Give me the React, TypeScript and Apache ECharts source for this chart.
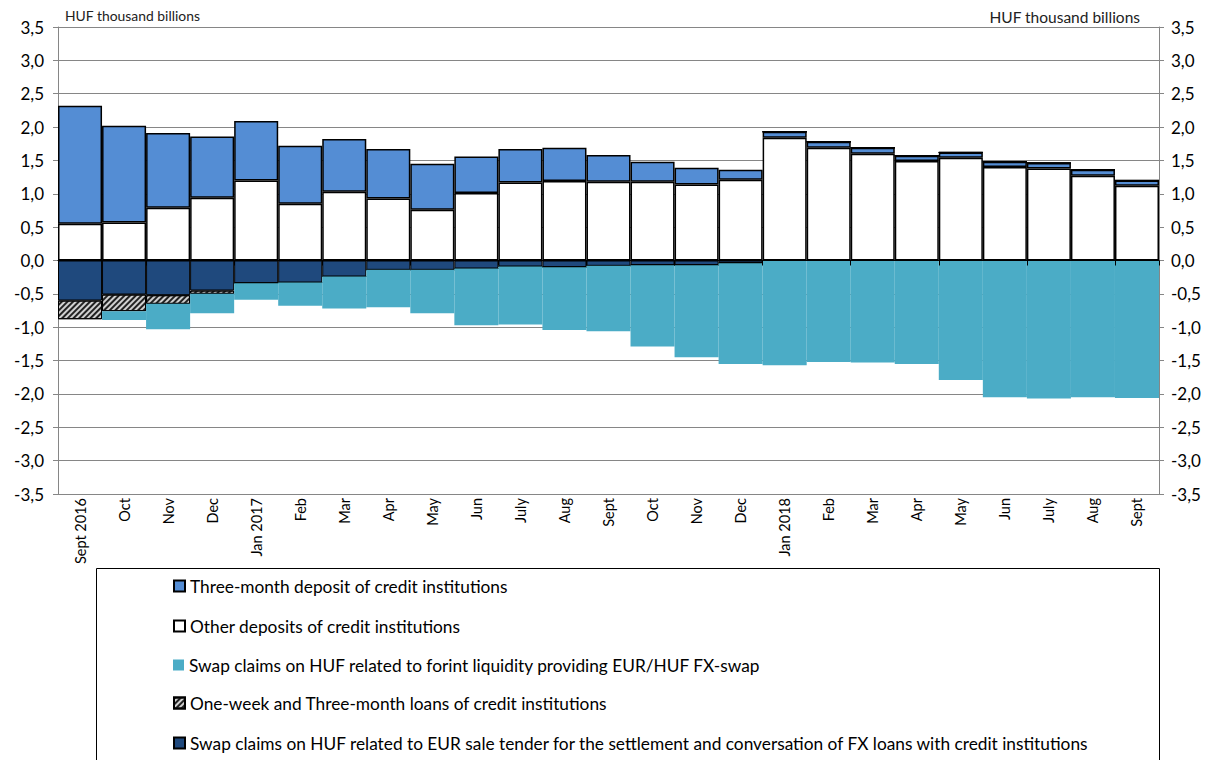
import React, { useEffect, useRef } from "react";
import * as echarts from "echarts";

const categories = [
  "Sept 2016", "Oct", "Nov", "Dec", "Jan 2017", "Feb", "Mar", "Apr", "May", "Jun", "July", "Aug", "Sept",
  "Oct", "Nov", "Dec", "Jan 2018", "Feb", "Mar", "Apr", "May", "Jun", "July", "Aug", "Sept",
];

const otherDeposits = [0.55, 0.57, 0.79, 0.94, 1.2, 0.85, 1.03, 0.93, 0.76, 1.01, 1.17, 1.19, 1.18, 1.18, 1.14, 1.21, 1.84, 1.69, 1.6, 1.49, 1.54, 1.4, 1.38, 1.27, 1.12];
const threeMonthDeposit = [1.77, 1.45, 1.12, 0.92, 0.89, 0.87, 0.79, 0.74, 0.69, 0.55, 0.5, 0.5, 0.4, 0.3, 0.25, 0.15, 0.09, 0.09, 0.09, 0.08, 0.08, 0.08, 0.08, 0.09, 0.08];
const swapEurSaleTender = [-0.6, -0.51, -0.52, -0.45, -0.34, -0.33, -0.24, -0.14, -0.14, -0.12, -0.09, -0.1, -0.08, -0.07, -0.07, -0.04, 0, 0, 0, 0, 0, 0, 0, 0, 0];
const loans = [-0.28, -0.25, -0.13, -0.05, 0, 0, 0, 0, 0, 0, 0, 0, 0, 0, 0, 0, 0, 0, 0, 0, 0, 0, 0, 0, 0];
const swapFxSwap = [0, -0.13, -0.38, -0.29, -0.25, -0.35, -0.48, -0.56, -0.65, -0.85, -0.87, -0.94, -0.98, -1.22, -1.38, -1.51, -1.57, -1.52, -1.53, -1.55, -1.79, -2.05, -2.07, -2.05, -2.06];

const NAME_THREE = "Three-month deposit of credit institutions";
const NAME_OTHER = "Other deposits of credit institutions";
const NAME_FX = "Swap claims on HUF related to forint liquidity providing EUR/HUF FX-swap";
const NAME_LOANS = "One-week and Three-month loans of credit institutions";
const NAME_TENDER = "Swap claims on HUF related to EUR sale tender for the settlement and conversation of FX loans with credit institutions";

const legendOrder = [NAME_THREE, NAME_OTHER, NAME_FX, NAME_LOANS, NAME_TENDER];
const legendCenters = [586, 626, 665, 703, 743];

const FONT = "Lato, 'Open Sans', sans-serif";

export default function App() {
  const ref = useRef<HTMLDivElement>(null);
  useEffect(() => {
    if (!ref.current) return;
    const chart = echarts.init(ref.current, null, { renderer: "svg" });
    const fmt = (v: number) => v.toFixed(1).replace(".", ",");
    const gridColor = "#868686";
    const option: any = {
      animation: false,
      textStyle: { fontFamily: FONT },
      grid: { left: 58, right: 60, top: 27, bottom: 266, containLabel: false },
      xAxis: [
        {
          type: "category",
          data: categories,
          position: "bottom",
          axisLine: { onZero: false, lineStyle: { color: gridColor, width: 1 } },
          axisTick: { show: false },
          axisLabel: { interval: 0, rotate: 90, fontSize: 14.5, color: "#000", margin: 4, fontFamily: FONT },
          splitLine: { show: false },
        },
        {
          type: "category",
          data: categories,
          position: "top",
          z: 10,
          axisLine: { onZero: true, onZeroAxisIndex: 0, lineStyle: { color: "#000", width: 1 } },
          axisTick: { show: true, inside: true, length: 5, lineStyle: { color: "#000" } },
          axisLabel: { show: false },
          splitLine: { show: false },
        },
      ],
      yAxis: [
        {
          type: "value",
          min: -3.5,
          max: 3.5,
          interval: 0.5,
          position: "left",
          axisLine: { show: true, lineStyle: { color: gridColor } },
          axisTick: { show: true, length: 5, lineStyle: { color: gridColor } },
          axisLabel: { formatter: fmt, fontSize: 17, color: "#000", margin: 14, fontFamily: FONT },
          splitLine: { show: true, lineStyle: { color: gridColor, width: 1 } },
        },
        {
          type: "value",
          min: -3.5,
          max: 3.5,
          interval: 0.5,
          position: "right",
          axisLine: { show: true, lineStyle: { color: gridColor } },
          axisTick: { show: true, length: 5, lineStyle: { color: gridColor } },
          axisLabel: { formatter: fmt, fontSize: 17, color: "#000", margin: 12, fontFamily: FONT },
          splitLine: { show: false },
        },
      ],
      legend: legendOrder.map((name, i) => ({
        data: [name],
        left: 173,
        top: legendCenters[i] - 10,
        padding: 0,
        icon: "rect",
        itemWidth: 11,
        itemHeight: 11,
        selectedMode: false,
        textStyle: { fontSize: 17.3, color: "#000", lineHeight: 20, fontFamily: FONT },
      })),
      graphic: [
        {
          type: "rect",
          shape: { x: 96.5, y: 568.5, width: 1063, height: 220 },
          style: { fill: "none", stroke: "#000", lineWidth: 1 },
        },
        {
          type: "text",
          x: 65,
          y: 15,
          style: { text: "HUF thousand billions", font: `13.9px ${FONT}`, fill: "#222", textVerticalAlign: "middle" },
        },
        {
          type: "text",
          x: 1140,
          y: 17,
          style: { text: "HUF thousand billions", font: `15.5px ${FONT}`, fill: "#222", textAlign: "right", textVerticalAlign: "middle" },
        },
      ],
      series: [
        {
          name: NAME_OTHER,
          type: "bar",
          stack: "total",
          data: otherDeposits,
          barWidth: "100%",
          barCategoryGap: "0%",
          itemStyle: { color: "#ffffff", borderColor: "#000", borderWidth: 1.5 },
        },
        {
          name: NAME_THREE,
          type: "bar",
          stack: "total",
          data: threeMonthDeposit,
          barWidth: "100%",
          itemStyle: { color: "#548DD4", borderColor: "#000", borderWidth: 1.5 },
        },
        {
          name: NAME_TENDER,
          type: "bar",
          stack: "total",
          data: swapEurSaleTender,
          barWidth: "100%",
          itemStyle: { color: "#1F497D", borderColor: "#000", borderWidth: 1 },
        },
        {
          name: NAME_LOANS,
          type: "bar",
          stack: "total",
          data: loans,
          barWidth: "100%",
          itemStyle: {
            color: "#d0d0d0",
            borderColor: "#000",
            borderWidth: 1,
            decal: {
              symbol: "rect",
              symbolSize: 1,
              color: "#222",
              backgroundColor: "#d0d0d0",
              dashArrayX: [1, 0],
              dashArrayY: [2, 2],
              rotation: -Math.PI / 4,
            },
          },
        },
        {
          name: NAME_FX,
          type: "bar",
          stack: "total",
          data: swapFxSwap,
          barWidth: "100%",
          itemStyle: { color: "#4BACC6", borderWidth: 0 },
        },
      ],
    };
    chart.setOption(option);
    return () => chart.dispose();
  }, []);
  return <div ref={ref} style={{ position: "fixed", left: 0, top: 0, width: 1219, height: 760, background: "#fff" }} />;
}
